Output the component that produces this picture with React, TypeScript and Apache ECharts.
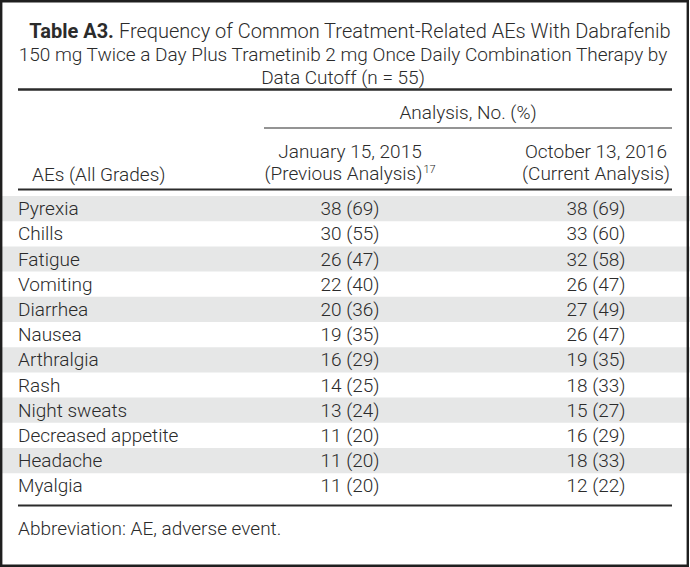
import React, { useEffect, useRef } from "react";
import * as echarts from "echarts";

const titleBold = "Table A3.";
const titleLines = [
  "Frequency of Common Treatment-Related AEs With Dabrafenib",
  "150 mg Twice a Day Plus Trametinib 2 mg Once Daily Combination Therapy by",
  "Data Cutoff (n = 55)",
];
const spanHeader = "Analysis, No. (%)";
const rowHeader = "AEs (All Grades)";
const colHeaderLine1 = ["January 15, 2015", "October 13, 2016"];
const colHeaderLine2 = ["(Previous Analysis)", "(Current Analysis)"];
const colHeaderSup = ["17", ""];
const categories = [
  "Pyrexia",
  "Chills",
  "Fatigue",
  "Vomiting",
  "Diarrhea",
  "Nausea",
  "Arthralgia",
  "Rash",
  "Night sweats",
  "Decreased appetite",
  "Headache",
  "Myalgia",
];
const prevCounts = [38, 30, 26, 22, 20, 19, 16, 14, 13, 11, 11, 11];
const prevPct = [69, 55, 47, 40, 36, 35, 29, 25, 24, 20, 20, 20];
const currCounts = [38, 33, 32, 26, 27, 26, 19, 18, 15, 16, 18, 12];
const currPct = [69, 60, 58, 47, 49, 47, 35, 33, 27, 29, 33, 22];
const footnote = "Abbreviation: AE, adverse event.";

const FONT = "Roboto";
const FW = 300;
const TXT = "#2b2b2b";
const FS = 19;

export default function App() {
  const ref = useRef<HTMLDivElement>(null);
  useEffect(() => {
    if (!ref.current) return;
    const chart = echarts.init(ref.current, undefined, { renderer: "svg" });
    const W = 690;
    const H = 567;
    const L = 18;
    const R = 672;
    const colX = [350, 596];
    const rowTop = 196;
    const rowH = 25.2;

    const txt = (x: number, y: number, text: string, align = "left", extra: any = {}) => ({
      type: "text",
      x,
      y,
      silent: true,
      style: {
        text,
        fill: TXT,
        fontFamily: FONT,
        fontWeight: FW,
        fontSize: FS,
        textAlign: align,
        textVerticalAlign: "middle",
        ...extra,
      },
    });
    const hline = (x1: number, x2: number, y: number, w: number) => ({
      type: "line",
      silent: true,
      shape: { x1, y1: y, x2, y2: y },
      style: { stroke: "#2b2b2b", lineWidth: w },
    });

    const elements: any[] = [];
    elements.push({ type: "rect", shape: { x: 0, y: 0, width: W, height: H }, style: { fill: "#ffffff" } });
    categories.forEach((_, i) => {
      if (i % 2 === 0) {
        elements.push({
          type: "rect",
          silent: true,
          shape: { x: 0, y: rowTop + i * rowH, width: W, height: rowH },
          style: { fill: "#e6e7e7" },
        });
      }
    });
    // title
    elements.push(
      txt(350, 31, `{b|${titleBold}} ${titleLines[0]}`, "center", {
        fontSize: 20,
        rich: { b: { fontFamily: FONT, fontWeight: "bold", fontSize: 20, fill: TXT } },
      })
    );
    elements.push(txt(W / 2 - 2, 54, titleLines[1], "center"));
    elements.push(txt(W / 2 - 2, 77, titleLines[2], "center"));
    elements.push(hline(L, R, 89.5, 2.5));
    // headers
    elements.push(txt((264 + R) / 2, 112, spanHeader, "center"));
    elements.push(hline(264, R, 128, 1.2));
    colHeaderLine1.forEach((t, i) => {
      elements.push(txt(colX[i], 151, t, "center"));
      const sup = colHeaderSup[i];
      elements.push(
        txt(colX[i], 173, sup ? `${colHeaderLine2[i]}{s|${sup}}` : colHeaderLine2[i], "center", {
          rich: { s: { fontFamily: FONT, fontWeight: FW, fontSize: 11, fill: TXT, verticalAlign: "top", padding: [0, 0, 0, 1] } },
        })
      );
    });
    elements.push(txt(L + 14, 174, rowHeader, "left"));
    elements.push(hline(L, R, 189.5, 2));
    // rows
    categories.forEach((c, i) => {
      const y = rowTop + i * rowH + rowH / 2;
      elements.push(txt(L, y, c, "left"));
      elements.push(txt(colX[0], y, `${prevCounts[i]} (${prevPct[i]})`, "center"));
      elements.push(txt(colX[1], y, `${currCounts[i]} (${currPct[i]})`, "center"));
    });
    elements.push(hline(L, R, 505.5, 2));
    elements.push(txt(L, 528, footnote, "left"));
    // outer border
    elements.push({
      type: "rect",
      silent: true,
      shape: { x: 1.2, y: 1.2, width: W - 3.4, height: H - 2.4 },
      style: { fill: "none", stroke: "#1f1f1f", lineWidth: 2.4 },
    });

    chart.setOption({
      animation: false,
      graphic: { elements },
    });
    return () => chart.dispose();
  }, []);
  return (
    <div
      ref={ref}
      style={{ position: "absolute", left: 0, top: 0, width: 690, height: 567, background: "#fff" }}
    />
  );
}
